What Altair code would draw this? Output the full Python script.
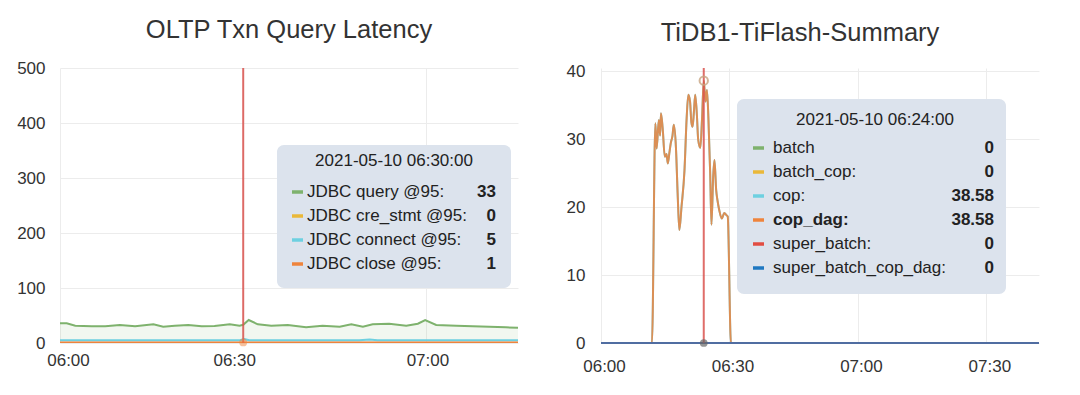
import altair as alt
import pandas as pd

FONT = "Liberation Sans"
TXT = "#333333"
BASE = pd.Timestamp("2021-05-10 06:00:00")

# ---------------- left panel data ----------------
L_TITLE = "OLTP Txn Query Latency"
L_NAMES = ["JDBC query @95:", "JDBC cre_stmt @95:", "JDBC connect @95:", "JDBC close @95:"]
L_COLORS = ["#7eb26d", "#eab839", "#6ed0e0", "#ef843c"]
L_HOVER = "2021-05-10 06:30:00"
L_TIP_VALUES = ["33", "0", "5", "1"]

query_t = [0.0, 1.1, 2.5, 5.2, 7.4, 9.8, 12.3, 15.3, 16.9, 18.8, 21.0, 23.2, 25.3, 27.8,
           29.4, 30.0, 30.9, 32.4, 34.6, 37.3, 40.3, 43.0, 45.8, 47.7, 49.6, 51.2, 53.9,
           56.7, 58.6, 59.8, 61.6, 64.9, 67.6, 70.3, 73.0, 75.0]
query_v = [35.8, 35.8, 31.5, 30.3, 30.3, 32.7, 30.3, 33.9, 29.7, 31.5, 32.7, 30.3, 30.9, 33.9,
           31.5, 33.0, 41.8, 33.9, 31.5, 32.7, 28.5, 31.5, 29.7, 33.9, 29.7, 33.9, 35.0,
           31.5, 35.0, 41.8, 32.7, 31.5, 30.3, 29.7, 28.5, 27.9]
cre_t = [0.0, 75.0]
cre_v = [0, 0]
connect_t = [0.0, 29.5, 30.2, 31.0, 49.0, 50.7, 52.0, 75.0]
connect_v = [5, 5, 7, 5, 5, 6.5, 5, 5]
close_t = [0.0, 75.0]
close_v = [1, 1]
L_SERIES = [(query_t, query_v), (cre_t, cre_v), (connect_t, connect_v), (close_t, close_v)]
L_YTICKS = [0, 100, 200, 300, 400, 500]

# ---------------- right panel data ----------------
R_TITLE = "TiDB1-TiFlash-Summary"
R_NAMES = ["batch", "batch_cop:", "cop:", "cop_dag:", "super_batch:", "super_batch_cop_dag:"]
R_COLORS = ["#7eb26d", "#eab839", "#6ed0e0", "#ef843c", "#e24d42", "#1f78c1"]
R_HOVER = "2021-05-10 06:24:00"
R_TIP_VALUES = ["0", "0", "38.58", "38.58", "0", "0"]

dag_t = [0.0, 11.9, 12.7, 13.0, 13.5, 13.8, 14.0, 14.4, 14.9, 15.3, 15.6, 16.0, 16.3, 16.7,
         17.0, 17.5, 17.9, 18.3, 18.8, 19.5, 20.0, 20.4, 20.8, 21.1, 21.4, 21.7, 22.0, 22.4,
         22.7, 23.2, 23.6, 24.0, 24.4, 24.75, 25.1, 25.5, 25.8, 26.2, 26.5, 26.9, 27.2, 27.6,
         28.2, 28.8, 29.3, 29.6, 30.35, 102.3]
dag_v = [0, 0, 32.3, 28.6, 32.8, 30.5, 33.8, 31.6, 27.4, 27.8, 26.4, 28.1, 29.4, 30.5,
         32.1, 28.8, 22.0, 16.6, 20.0, 25.4, 33.0, 36.5, 35.5, 32.5, 31.8, 34.0, 36.5, 33.5,
         29.9, 28.7, 33.0, 38.58, 35.5, 37.2, 32.8, 25.0, 17.4, 24.5, 26.9, 22.5, 21.0, 19.6,
         18.3, 19.1, 18.8, 18.6, 0, 0]
zero_t = [0.0, 102.3]
zero_v = [0, 0]
R_SERIES = [(zero_t, zero_v), (zero_t, zero_v), (dag_t, dag_v), (dag_t, dag_v),
            (zero_t, zero_v), (zero_t, zero_v)]
R_YTICKS = [0, 10, 20, 30, 40]


def frame(ts, vs):
    return pd.DataFrame({"time": [BASE + pd.Timedelta(minutes=m) for m in ts], "value": vs})


def dt(h, m, s=0):
    return alt.DateTime(year=2021, month=5, date=10, hours=h, minutes=m, seconds=s)


def one():
    return pd.DataFrame({"k": [0]})


def tooltip_layers(box, title_xy, header, names, values, colors, rows_y, sw_x, txt_x, val_x, bold_row=None):
    layers = []
    x0, x1, y0, y1 = box
    layers.append(alt.Chart(one()).mark_rect(cornerRadius=7, color="#dce3ed").encode(
        x=alt.value(x0), x2=alt.value(x1), y=alt.value(y0), y2=alt.value(y1)))
    layers.append(alt.Chart(one()).mark_text(font=FONT, fontSize=17, color="#222", align="center",
                                             baseline="middle").encode(
        x=alt.value(title_xy[0]), y=alt.value(title_xy[1]), text=alt.value(header)))
    for i, (nm, vl, col, ry) in enumerate(zip(names, values, colors, rows_y)):
        layers.append(alt.Chart(one()).mark_rule(strokeWidth=3.5, color=col).encode(
            x=alt.value(sw_x[0]), x2=alt.value(sw_x[1]), y=alt.value(ry)))
        layers.append(alt.Chart(one()).mark_text(
            font=FONT, fontSize=17, color="#222", align="left", baseline="middle",
            fontWeight="bold" if i == bold_row else "normal").encode(
            x=alt.value(txt_x), y=alt.value(ry), text=alt.value(nm)))
        layers.append(alt.Chart(one()).mark_text(
            font=FONT, fontSize=17, color="#222", align="right", baseline="middle",
            fontWeight="bold").encode(
            x=alt.value(val_x), y=alt.value(ry), text=alt.value(vl)))
    return layers


# ---------------- left panel ----------------
l_offset = {"condition": [
    {"test": "hours(datum.value) == 6 && minutes(datum.value) == 0", "value": 8},
    {"test": "minutes(datum.value) == 30", "value": -9}], "value": 1}
lx = alt.X("time:T", title=None,
           scale=alt.Scale(domain=[dt(6, 0), dt(7, 15)], nice=False),
           axis=alt.Axis(values=[dt(6, 0), dt(6, 30), dt(7, 0)], format="%H:%M",
                         labelPadding=9, labelFontSize=17, labelFlush=False,
                         labelOffset=l_offset))
ly = alt.Y("value:Q", title=None, scale=alt.Scale(domain=[0, 500], nice=False),
           axis=alt.Axis(values=L_YTICKS, labelPadding=15, labelFontSize=17))

l_layers = []
for (t, v), col in zip(L_SERIES, L_COLORS):
    df = frame(t, v)
    l_layers.append(alt.Chart(df).mark_area(color=col, opacity=0.1, clip=True).encode(x=lx, y=ly))
for (t, v), col in zip(L_SERIES, L_COLORS):
    df = frame(t, v)
    l_layers.append(alt.Chart(df).mark_line(color=col, strokeWidth=2, clip=True).encode(x=lx, y=ly))
l_layers.append(alt.Chart(frame([30.0], [0])).mark_rule(color="#d9534f", strokeWidth=2, opacity=0.85)
                .encode(x=lx))
l_layers.append(alt.Chart(frame([30.0], [1])).mark_point(color="#ef843c", size=60, filled=True, opacity=0.5)
                .encode(x=lx, y=ly))
l_layers += tooltip_layers(box=(217, 451, 77, 220), title_xy=(334, 93), header=L_HOVER,
                           names=L_NAMES, values=L_TIP_VALUES, colors=L_COLORS,
                           rows_y=[124, 148, 172, 196], sw_x=(232, 243), txt_x=247, val_x=436)

left = alt.layer(*l_layers).properties(
    width=458, height=275,
    title=alt.TitleParams(L_TITLE, font=FONT, fontSize=25.5, fontWeight="normal", color=TXT,
                          frame="group", offset=16))

# ---------------- right panel ----------------
R_YMAX = 40 * 275 / 272
rx = alt.X("time:T", title=None,
           scale=alt.Scale(domain=[dt(6, 0), dt(7, 42, 18)], nice=False),
           axis=alt.Axis(values=[dt(6, 0), dt(6, 30), dt(7, 0), dt(7, 30)], format="%H:%M",
                         labelPadding=15, labelOffset=3, labelFontSize=17, labelFlush=False))
ry = alt.Y("value:Q", title=None, scale=alt.Scale(domain=[0, R_YMAX], nice=False),
           axis=alt.Axis(values=R_YTICKS, labelPadding=16, labelFontSize=17))

r_layers = []
for i, ((t, v), col) in enumerate(zip(R_SERIES, R_COLORS)):
    df = frame(t, v)
    op = 0.85 if i == 3 else (0.75 if i == 5 else 1)
    interp = "monotone" if i in (2, 3) else "linear"
    r_layers.append(alt.Chart(df).mark_line(color=col, strokeWidth=2, opacity=op,
                                            interpolate=interp)
                    .encode(x=rx, y=ry))
r_layers.append(alt.Chart(frame([24.0], [0])).mark_rule(color="#d9534f", strokeWidth=2, opacity=0.85)
                .encode(x=rx))
r_layers.append(alt.Chart(frame([24.0], [38.58])).mark_point(color="#c8a582", size=70, strokeWidth=2,
                                                              opacity=0.8).encode(x=rx, y=ry))
r_layers.append(alt.Chart(frame([24.0], [0])).mark_point(color="#666666", size=60, filled=True,
                                                          opacity=0.7).encode(x=rx, y=ry))
r_layers += tooltip_layers(box=(136, 405, 31, 226), title_xy=(274, 52), header=R_HOVER,
                           names=R_NAMES, values=R_TIP_VALUES, colors=R_COLORS,
                           rows_y=[80, 104, 128, 152, 176, 200], sw_x=(152, 163), txt_x=172,
                           val_x=393, bold_row=3)

right = alt.layer(*r_layers).properties(
    width=438, height=275,
    title=alt.TitleParams(R_TITLE, font=FONT, fontSize=25.5, fontWeight="normal", color=TXT,
                          frame="group", offset=16, dx=-20))

chart = alt.hconcat(left, right, spacing=48).properties(
    padding={"left": 16, "top": 17, "right": 5, "bottom": 5},
    background="white",
).configure_view(stroke=None).configure_axis(
    domain=False, ticks=False, grid=True, gridColor="#ececec", gridWidth=1,
    labelFont=FONT, labelColor=TXT, labelFontSize=17,
)

chart.save("out.html", embed_options={"renderer": "svg", "actions": False})
